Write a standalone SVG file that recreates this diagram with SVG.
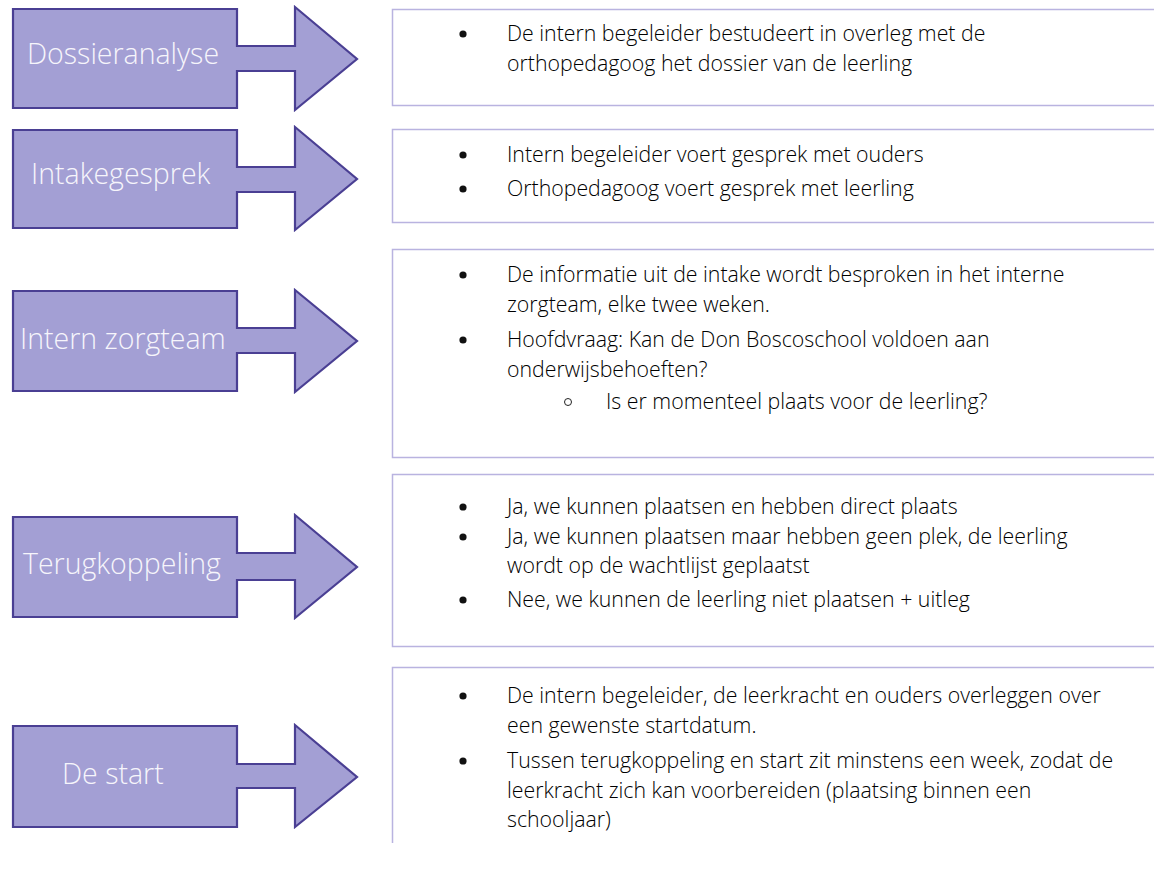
<svg xmlns="http://www.w3.org/2000/svg" width="1154" height="870" viewBox="0 0 1154 870">
<defs>
<style>
.arrow{fill:#a39fd4;stroke:#4a3f93;stroke-width:2.2;stroke-linejoin:miter}
.lbl{font-family:"Open Sans","Noto Sans",sans-serif;font-weight:300;font-size:28.5px;fill:#f6f5fb}
.box{fill:#ffffff;stroke:#b9b3e0;stroke-width:1.5}
.txt{font-family:"Open Sans","Noto Sans",sans-serif;font-weight:300;font-size:21.3px;fill:#000000}
.dot{fill:#111}
.sub{fill:none;stroke:#222;stroke-width:1}
</style>
</defs>
<rect width="1154" height="870" fill="#ffffff"/>

<g id="step1">
<path class="arrow" d="M13,9 H237 V46 H295 V7 L357,59 L295,110 V71 H237 V108 H13 Z"/>
<text class="lbl" x="27" y="64">Dossieranalyse</text>
</g>
<g id="step2">
<path class="arrow" d="M13,130 H237 V167 H295 V127 L357,179 L295,230 V192 H237 V228 H13 Z"/>
<text class="lbl" x="31" y="184">Intakegesprek</text>
</g>
<g id="step3">
<path class="arrow" d="M13,291 H237 V328 H295 V290 L357,341 L295,392 V353 H237 V391 H13 Z"/>
<text class="lbl" x="20" y="349">Intern zorgteam</text>
</g>
<g id="step4">
<path class="arrow" d="M13,517 H237 V553 H295 V515 L357,567 L295,618 V580 H237 V617 H13 Z"/>
<text class="lbl" x="23" y="574">Terugkoppeling</text>
</g>
<g id="step5">
<path class="arrow" d="M13,726 H237 V764 H295 V725 L357,777 L295,827 V788 H237 V827 H13 Z"/>
<text class="lbl" x="62" y="784">De start</text>
</g>

<g id="box1">
<rect class="box" x="392.5" y="9.5" width="780" height="96"/>
<circle class="dot" cx="463" cy="34" r="3.6"/>
<text class="txt" x="507" y="41">De intern begeleider bestudeert in overleg met de</text>
<text class="txt" x="507" y="71">orthopedagoog het dossier van de leerling</text>
</g>
<g id="box2">
<rect class="box" x="392.5" y="129.5" width="780" height="93"/>
<circle class="dot" cx="463" cy="155" r="3.6"/>
<text class="txt" x="507" y="162">Intern begeleider voert gesprek met ouders</text>
<circle class="dot" cx="463" cy="189" r="3.6"/>
<text class="txt" x="507" y="196">Orthopedagoog voert gesprek met leerling</text>
</g>
<g id="box3">
<rect class="box" x="392.5" y="249.5" width="780" height="208"/>
<circle class="dot" cx="463" cy="275" r="3.6"/>
<text class="txt" x="507" y="282">De informatie uit de intake wordt besproken in het interne</text>
<text class="txt" x="507" y="312">zorgteam, elke twee weken.</text>
<circle class="dot" cx="463" cy="340" r="3.6"/>
<text class="txt" x="507" y="347">Hoofdvraag: Kan de Don Boscoschool voldoen aan</text>
<text class="txt" x="507" y="377">onderwijsbehoeften?</text>
<circle class="sub" cx="568" cy="402" r="3.5"/>
<text class="txt" x="606" y="409">Is er momenteel plaats voor de leerling?</text>
</g>
<g id="box4">
<rect class="box" x="392.5" y="474.5" width="780" height="172"/>
<circle class="dot" cx="463" cy="507" r="3.6"/>
<text class="txt" x="507" y="514">Ja, we kunnen plaatsen en hebben direct plaats</text>
<circle class="dot" cx="463" cy="537" r="3.6"/>
<text class="txt" x="507" y="544">Ja, we kunnen plaatsen maar hebben geen plek, de leerling</text>
<text class="txt" x="507" y="573">wordt op de wachtlijst geplaatst</text>
<circle class="dot" cx="463" cy="600" r="3.6"/>
<text class="txt" x="507" y="607">Nee, we kunnen de leerling niet plaatsen + uitleg</text>
</g>
<g id="box5">
<path class="box" d="M392.5,843 V667.5 H1160"/>
<circle class="dot" cx="463" cy="696" r="3.6"/>
<text class="txt" x="507" y="703">De intern begeleider, de leerkracht en ouders overleggen over</text>
<text class="txt" x="507" y="733">een gewenste startdatum.</text>
<circle class="dot" cx="463" cy="761" r="3.6"/>
<text class="txt" x="507" y="768">Tussen terugkoppeling en start zit minstens een week, zodat de</text>
<text class="txt" x="507" y="798">leerkracht zich kan voorbereiden (plaatsing binnen een</text>
<text class="txt" x="507" y="827">schooljaar)</text>
</g>
<g id="connectors"></g>
</svg>
